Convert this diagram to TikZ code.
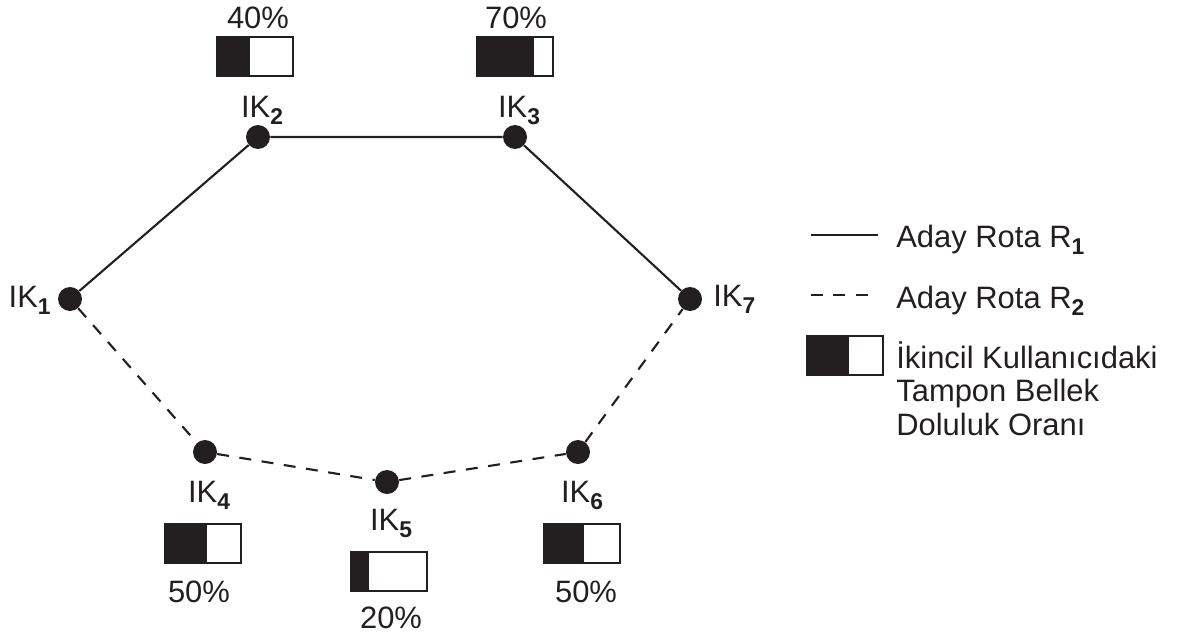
\documentclass[tikz,border=0pt]{standalone}
\usepackage{fontspec}
\setmainfont{Liberation Sans}
\usepackage{xcolor}
\definecolor{koyu}{HTML}{231F20}
% kalin alt indis (IK_2, R_1 ...)
\newcommand{\altind}[1]{\raisebox{-4pt}{\fontsize{13}{13}\selectfont\bfseries #1}}
% tampon bellek kutusu: sol ust kose (x,y), doluluk orani
\newcommand{\tampon}[3]{%
  \fill[koyu] (#1,#2) rectangle ++(76*#3,39);
  \draw[kutu] (#1,#2) rectangle ++(76,39);}

\tikzset{
  dugum/.style={circle, fill=koyu, inner sep=0pt, minimum size=0.48cm},
  yazi/.style={anchor=base, inner sep=0pt, text=koyu, font=\fontsize{17.6}{20}\selectfont},
  rota1/.style={draw=koyu, line width=1.2pt},
  rota2/.style={draw=koyu, line width=1.2pt, dash pattern=on 6.8pt off 6pt},
  kutu/.style={draw=koyu, line width=1.1pt},
}

\begin{document}
\begin{tikzpicture}[x=0.02cm, y=-0.02cm]
  \useasboundingbox (0,0) rectangle (1180,636);

  % dugumler
  \node[dugum] (ik1) at (70,299) {};
  \node[dugum] (ik2) at (258,137) {};
  \node[dugum] (ik3) at (515,137) {};
  \node[dugum] (ik4) at (205,452) {};
  \node[dugum] (ik5) at (387,482) {};
  \node[dugum] (ik6) at (578,452) {};
  \node[dugum] (ik7) at (690,299) {};

  % rotalar
  \draw[rota1] (ik1) -- (ik2) -- (ik3) -- (ik7);
  \draw[rota2] (ik1) -- (ik4) -- (ik5) -- (ik6) -- (ik7);

  % dugum adlari
  \node[yazi, anchor=base east] (ad1) at (51,307) {IK\altind{1}};
  \node[yazi] (ad2) at (262,117) {IK\altind{2}};
  \node[yazi] (ad3) at (519,117) {IK\altind{3}};
  \node[yazi] (ad4) at (209,502) {IK\altind{4}};
  \node[yazi] (ad5) at (391,530) {IK\altind{5}};
  \node[yazi] (ad6) at (582,502) {IK\altind{6}};
  \node[yazi, anchor=base west] (ad7) at (713,306) {IK\altind{7}};

  % tampon doluluklari
  \tampon{217}{37}{0.43}
  \tampon{477}{37}{0.75}
  \tampon{165}{524}{0.55}
  \tampon{351}{552}{0.24}
  \tampon{544}{524}{0.53}
  \node[yazi] (oran2) at (258,28) {40\%};
  \node[yazi] (oran3) at (516,28) {70\%};
  \node[yazi] (oran4) at (199,602) {50\%};
  \node[yazi] (oran5) at (391,628) {20\%};
  \node[yazi] (oran6) at (586,602) {50\%};

  % aciklama
  \coordinate (r1a) at (811,235);
  \coordinate (r1b) at (878,235);
  \coordinate (r2a) at (811,295);
  \coordinate (r2b) at (878,295);
  \draw[rota1] (r1a) -- (r1b);
  \draw[rota2] (r2a) -- (r2b);
  \node[yazi, anchor=base west] (acik1) at (896,247) {Aday Rota R\altind{1}};
  \node[yazi, anchor=base west] (acik2) at (896,308) {Aday Rota R\altind{2}};
  \tampon{807}{336}{0.55}
  \node[yazi, anchor=base west] (acik3) at (896,368) {İkincil Kullanıcıdaki};
  \node[yazi, anchor=base west] (acik4) at (896,401) {Tampon Bellek};
  \node[yazi, anchor=base west] (acik5) at (896,435) {Doluluk Oranı};
\end{tikzpicture}
\end{document}
